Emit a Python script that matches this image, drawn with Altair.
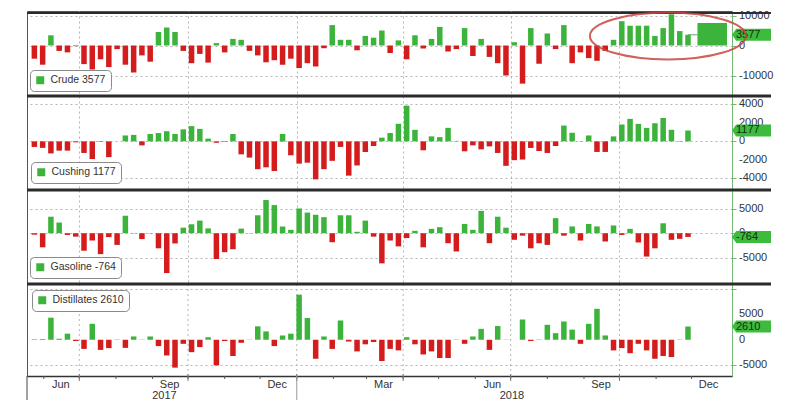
import altair as alt
import pandas as pd

# ---------------- data ----------------
dates = [d.strftime("%Y-%m-%d") for d in pd.date_range("2017-05-24", periods=80, freq="7D")]

crude = [-4400, -6400, 3400, -1800, -2300, -200, -6200, -8000, -4600, -7200,
         -1200, -6400, -9000, -3300, -5400, 4500, 6000, 4500, -1800, -5900,
         -2800, -5700, 800, -2300, 2200, 1900, -1800, -3300, -5600, -4900,
         -6400, -4400, -7500, -5900, -7000, -900, 6800, 1900, 1900, -1600,
         3200, 2600, 5000, -2500, 1700,
         -4600, 3400, -1000, 2200, 6200, -2000, -1200, 5800, -3500, 2200,
         -3800, -5900, -10000, 1100, -12700, 5800, -6100, 4000, -1200, 6800,
         -5900, -2300, -4200, -5100, -1800, 1900, 8100, 6600, 6600, 6600,
         3200, 5800, 10400, 4800, 3577]

cushing = [-600, -700, -1300, -1000, -1000, -100, -1250, -1900, -50, -1700,
           0, 640, 700, -430, 800, 900, 1100, 800, 1300, 1650,
           1350, 300, -150, -50, 800, -1400, -1750, -3000, -2800, -3200,
           800, -1500, -2400, -2300, -4100, -3000, -2100, -600, -3700, -2600,
           -1150, -500, 400, 900, 1900,
           3860, 1250, -960, 540, 460, 1460, 50, -1070, -430, -860,
           -540, -1250, -2640, -2030, -1960, -710, -1040, -1250, -500, 1710,
           930, 30, 640, -1140, -1140, 540, 1820, 2430, 1890, 1460,
           1960, 2530, 1250, -30, 1177]

gasoline = [-300, -2900, 3400, 2200, -350, -700, -3600, -1500, -4300, -800,
            -2400, 3600, -50, -1200, -50, -3100, -8200, -2100, 1150, 1850,
            2600, 1000, -5300, -3900, -3300, 950, 50, 3700, 6850, 5800,
            1400, 700, 5100, 4250, 3800, 3300, -1850, 3700, 3700, 300,
            2600, -700, -6200, -1500, -2700,
            -1000, 500, -2900, 900, 1250, -2050, -3750, 1900, 700, 4600,
            -2050, 3400, 1150, -1350, -500, -3100, -2050, -2400, 3100, -500,
            1400, -1500, 1900, 1400, -1700, 1600, -350, 900, -1900, -4800,
            -3100, 2050, -1350, -1150, -764]

distillates = [100, 150, 4350, 200, 1200, -250, -1800, 3150, -2000, -1650,
               -50, -1600, 650, 50, 650, -1250, -3100, -5500, -800, -2450,
               -1450, 500, -5050, -250, -3200, -600, 50, 2650, 1650, -1250,
               850, 1200, 8900, 4300, -3750, 650, -1800, 3800, -350, -2300,
               -900, -450, -4200, -1800, -2100,
               500, -900, -2900, -2300, -3600, -3600, -50, -800, 650, 2150,
               -2000, 2700, 50, 0, 4000, -250, -50, 2950, 1300, 3600,
               2000, -800, 3150, 6100, 850, -2100, -1650, -2650, -800, -2100,
               -3750, -3200, -3400, -50, 2610]

series_names = ["Crude", "Cushing", "Gasoline", "Distillates"]
series_values = [crude, cushing, gasoline, distillates]
y_domains = [[-16833, 11500], [-5250, 4900], [-10450, 8900], [-7150, 11000]]
y_ticks = [[-10000, 0, 10000], [-4000, -2000, 0, 2000, 4000],
           [-5000, 0, 5000], [-5000, 0, 5000, 10000]]
y_tick_labels = [["-10000", "0", "10000"], ["-4000", "-2000", "0", "2000", "4000"],
                 ["-5000", "0", "5000"], ["-5000", "0", "5000", ""]]
panel_heights = [85, 94, 94, 92]
legend_xy = [(3, 59), (4, 66), (3, 67), (5, 6)]

quarter_starts = ["2017-07-01", "2017-10-01", "2018-01-01", "2018-04-01", "2018-07-01", "2018-10-01"]
month_starts = ["2017-06-01", "2017-07-01", "2017-08-01", "2017-09-01", "2017-10-01",
                "2017-11-01", "2017-12-01", "2018-01-01", "2018-02-01", "2018-03-01",
                "2018-04-01", "2018-05-01", "2018-06-01", "2018-07-01", "2018-08-01",
                "2018-09-01", "2018-10-01", "2018-11-01", "2018-12-01"]
month_label_dates = [(2017, 6, 15), (2017, 9, 15), (2017, 12, 15), (2018, 3, 15),
                     (2018, 6, 15), (2018, 9, 15), (2018, 12, 15)]
year_labels = {"date": ["2017-09-11", "2018-07-02"], "year": ["2017", "2018"]}
year_break = {"date": ["2018-01-01"]}
x_domain = [(2017, 5, 22), (2018, 12, 31)]

crude_box = {"start": ["2018-12-06"], "end": ["2018-12-31"], "low": [0], "high": [7500]}
crude_link = {"start": ["2018-11-28"], "end": ["2018-12-06"], "level": [3577]}
ellipse_mark = {"date": ["2018-11-11"], "level": [3170]}

# ---------------- style ----------------
W = 705
GREEN = "#3cb43c"
TAG_GREEN = "#3dbb3d"
RED = "#d41c1c"
GRID = "#b4b4b4"
AXG = "#74b874"
FONT = "Liberation Sans"
TAG_PATH = "M0,0L0.7,-1L6.5,-1L6.5,1L0.7,1Z"
ELLIPSE_PATH = ("M-1,0C-1,-0.1657,-0.5523,-0.3,0,-0.3C0.5523,-0.3,1,-0.1657,1,0"
                "C1,0.1657,0.5523,0.3,0,0.3C-0.5523,0.3,-1,0.1657,-1,0Z")


def dt(t):
    return alt.DateTime(year=t[0], month=t[1], date=t[2])


xscale = alt.Scale(domain=[dt(x_domain[0]), dt(x_domain[1])])
quarter_vals = [dt((int(q[:4]), int(q[5:7]), 1)) for q in quarter_starts]


def panel(i):
    name = series_names[i]
    vals = series_values[i]
    last = vals[-1]
    label = f"{name} {last}"
    df = pd.DataFrame({"date": dates, "v": vals, "name": label})
    H = panel_heights[i]
    yscale = alt.Scale(domain=y_domains[i], nice=False)
    yaxis = alt.Axis(orient="right", values=y_ticks[i], labels=False, grid=True,
                     gridDash=[2, 3], gridColor=GRID, domainColor=AXG, tickColor=AXG,
                     tickSize=4, title=None)
    if i < 3:
        xaxis = alt.Axis(values=quarter_vals, grid=True, labels=False, ticks=False,
                         domain=False, title=None, gridDash=[2, 3], gridColor=GRID)
    else:
        xaxis = alt.Axis(values=[dt(m) for m in month_label_dates], orient="bottom",
                         grid=False, format="%b", labelOverlap=False, labelFlush=False,
                         ticks=False, domainColor="#333", domainWidth=1.5,
                         labelPadding=2, title=None, labelColor="#333", labelFont=FONT,
                         labelFontSize=11)
    lx, ly = legend_xy[i]
    layers = []

    if i == 3:
        qgrid = alt.Chart(pd.DataFrame({"date": quarter_starts})).mark_rule(
            color=GRID, strokeDash=[2, 3], strokeWidth=1).encode(
            x=alt.X("date:T", scale=xscale, axis=xaxis), y=alt.value(0), y2=alt.value(H))
        layers.append(qgrid)

    bars = alt.Chart(df).mark_bar(size=5.5).encode(
        x=alt.X("date:T", scale=xscale, axis=xaxis),
        y=alt.Y("v:Q", scale=yscale, axis=yaxis),
        color=alt.condition(
            "datum.v < 0", alt.value(RED),
            alt.Color("name:N", scale=alt.Scale(domain=[label], range=[GREEN]),
                      legend=alt.Legend(title=None, orient="none", legendX=lx, legendY=ly,
                                        fillColor="white", strokeColor="#8a8a8a",
                                        cornerRadius=4, padding=5, symbolType="square",
                                        symbolSize=64, symbolStrokeWidth=0, labelFont=FONT,
                                        labelFontSize=10.5, labelColor="#333",
                                        symbolOpacity=1, labelOffset=5)))
    )
    layers.append(bars)

    if i == 0:
        box = alt.Chart(pd.DataFrame(crude_box)).mark_rect(color=GREEN).encode(
            x="start:T", x2="end:T", y="low:Q", y2="high:Q")
        link = alt.Chart(pd.DataFrame(crude_link)).mark_rule(color="#6f9f6f", strokeWidth=1).encode(
            x="start:T", x2="end:T", y="level:Q")
        top = alt.Chart(pd.DataFrame({"a": [0]})).mark_rule(color="#2b2b2b", strokeWidth=2).encode(
            x=alt.value(0), x2=alt.value(W + 39), y=alt.value(2))
        layers += [box, link, top]
    else:
        sep = alt.Chart(pd.DataFrame({"a": [0]})).mark_rule(color="#2b2b2b", strokeWidth=3).encode(
            x=alt.value(0), x2=alt.value(W + 39), y=alt.value(0))
        layers.append(sep)

    ylab_df = pd.DataFrame({"v": y_ticks[i], "t": y_tick_labels[i]})
    ylab = alt.Chart(ylab_df).mark_text(align="left", baseline="middle", font=FONT,
                                        fontSize=11, color="#333").encode(
        x=alt.value(W + 7), y="v:Q", text="t:N")
    layers.append(ylab)

    tag_df = pd.DataFrame({"v": [last], "t": [str(last)]})
    tag = alt.Chart(tag_df).mark_point(shape=TAG_PATH, size=144, filled=True, color=TAG_GREEN,
                                       opacity=1, strokeWidth=0).encode(
        x=alt.value(W), y="v:Q")
    tag_text = alt.Chart(tag_df).mark_text(align="left", baseline="middle", dx=4, font=FONT,
                                           fontSize=11, color="#123012").encode(
        x=alt.value(W), y="v:Q", text="t:N")
    layers += [tag, tag_text]

    if i == 0:
        ell = alt.Chart(pd.DataFrame(ellipse_mark)).mark_point(
            shape=ELLIPSE_PATH, size=156 * 156, filled=False, stroke="#c8463f",
            strokeWidth=2, opacity=0.85).encode(x="date:T", y="level:Q")
        layers.append(ell)

    if i == 3:
        mticks = alt.Chart(pd.DataFrame({"date": month_starts})).mark_rule(color="#555").encode(
            x="date:T", y=alt.value(H), y2=alt.value(H + 3))
        qticks = alt.Chart(pd.DataFrame({"date": quarter_starts})).mark_rule(color="#777").encode(
            x="date:T", y=alt.value(H - 2), y2=alt.value(H + 5))
        yr = alt.Chart(pd.DataFrame(year_labels)).mark_text(
            font=FONT, fontSize=11, color="#333", baseline="middle").encode(
            x="date:T", y=alt.value(H + 20), text="year:N")
        brk = alt.Chart(pd.DataFrame(year_break)).mark_rule(color="#9a9a9a").encode(
            x="date:T", y=alt.value(H), y2=alt.value(H + 26))
        frame = alt.Chart(pd.DataFrame({"a": [0]})).mark_rule(color="#444", strokeWidth=1).encode(
            x=alt.value(0), y=alt.value(H), y2=alt.value(H + 26))
        layers += [mticks, qticks, yr, brk, frame]

    return alt.layer(*layers).properties(width=W, height=H)


chart = alt.vconcat(*[panel(i) for i in range(4)], spacing=0, bounds="flush").resolve_scale(
    y="independent", color="independent"
).properties(
    padding={"left": 17, "top": 0, "right": 5, "bottom": 0}
).configure_view(stroke="#555", strokeWidth=1)

chart.save("out.html", embed_options={"renderer": "svg", "actions": False})
